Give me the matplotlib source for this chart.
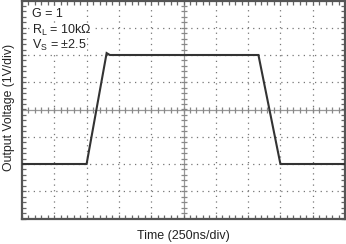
import numpy as np
import matplotlib
matplotlib.use("Agg")
import matplotlib.pyplot as plt

plt.rcParams['font.family'] = ['Liberation Sans', 'DejaVu Sans']

# Waveform (x in divisions, y in divisions from centre)
t_div = [0.0, 2.0, 2.62, 2.72, 7.32, 8.0, 10.0]
v_div = [-2.0, -2.0, 2.07, 2.0, 2.0, -2.0, -2.0]

annotations = ["G = 1", r"R$_\mathregular{L}$ = 10kΩ", r"V$_\mathregular{S}$ = ±2.5"]
xlabel = "Time (250ns/div)"
ylabel = "Output Voltage (1V/div)"

fig = plt.figure(figsize=(3.46, 2.44), dpi=100)
ax = fig.add_axes([22/346, 1 - 218.5/244, 323/346, 218/244])
ax.set_xlim(0, 10)
ax.set_ylim(-4, 4)

grid_c = '#777777'
for xv in range(1, 10):
    if xv != 5:
        ax.axvline(xv, color=grid_c, lw=0.9, ls=(0, (1, 3.5)), zorder=1)
for yv in range(-3, 4):
    if yv != 0:
        ax.axhline(yv, color=grid_c, lw=0.9, ls=(0, (1, 3.5)), zorder=1)

# centre cross with ticks
ax.axvline(5, color='#999999', lw=0.9, zorder=1)
ax.axhline(0, color='#999999', lw=0.9, zorder=1)
mx = np.arange(0.2, 10, 0.2)
my = np.arange(-3.8, 4, 0.2)
ax.plot(mx, np.zeros_like(mx), ls='none', marker='|', ms=5, mew=0.9, color='#888888', zorder=1)
ax.plot(np.full_like(my, 5), my, ls='none', marker='_', ms=5, mew=0.9, color='#888888', zorder=1)

ax.plot(t_div, v_div, color='#333333', lw=1.5, zorder=3, solid_joinstyle='miter')

ax.set_xticks(np.arange(0, 10.01, 0.2))
ax.set_yticks(np.arange(-4, 4.01, 0.2))
ax.tick_params(direction='in', length=3, width=0.9, color='#666666',
               labelbottom=False, labelleft=False, top=True, right=True)
for s in ax.spines.values():
    s.set_color('#555555')
    s.set_linewidth(1.6)

y0 = 0.966
for i, txt in enumerate(annotations):
    ax.text(0.031, y0 - i * 0.069, txt, transform=ax.transAxes, va='top', ha='left',
            fontsize=9, color='#222222', zorder=4,
            bbox=dict(facecolor='white', edgecolor='none', pad=0.3))

fig.text(183/346, 1 - 235.5/244, xlabel, ha='center', va='center', fontsize=9, color='#222222')
fig.text(9/346, 1 - 107.5/244, ylabel, ha='center', va='center', rotation=90, fontsize=8.8, color='#222222')

fig.savefig('out.png', dpi=100)
